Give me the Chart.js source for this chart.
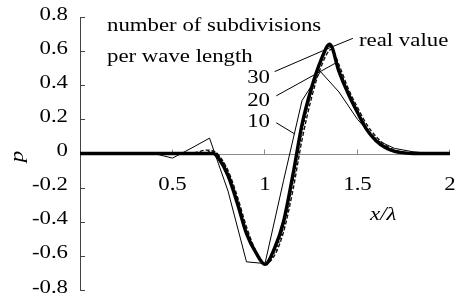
<!DOCTYPE html>
<html lang="en">
<head>
<meta charset="UTF-8">
<script src="https://cdn.jsdelivr.net/npm/chart.js@4.4.0/dist/chart.umd.min.js"></script>
<style>
  html, body { margin: 0; padding: 0; background: #fff; }
  #wrap { width: 458px; height: 298px; }
</style>
<title>p vs x/lambda</title>
</head>
<body>
<div id="wrap"><canvas id="myChart" width="458" height="298"></canvas></div>
<script>
// values (x in wave lengths, p)
const realX = [0, 0.7, 0.72, 0.75, 0.8, 0.85, 0.9, 0.95, 1.0, 1.05, 1.1, 1.15, 1.2, 1.25, 1.3, 1.35, 1.4, 1.45, 1.5, 1.55, 1.6, 1.65, 1.7, 1.75, 1.8, 2.0]
const realP = [0, 0, 0, -0.03, -0.13, -0.29, -0.47, -0.58, -0.65, -0.56, -0.40, -0.13, 0.17, 0.38, 0.54, 0.64, 0.48, 0.35, 0.24, 0.14, 0.075, 0.035, 0.012, 0.004, 0, 0]

const div30X = [0, 0.66, 0.7, 0.73, 0.76, 0.8, 0.85, 0.9, 0.95, 1.0, 1.05, 1.1, 1.15, 1.2, 1.25, 1.3, 1.35, 1.4, 1.45, 1.5, 1.55, 1.6, 1.65, 1.7, 1.75, 1.8, 2.0]
const div30P = [0, 0, 0.01, 0.005, -0.03, -0.11, -0.27, -0.45, -0.575, -0.645, -0.58, -0.43, -0.17, 0.13, 0.36, 0.53, 0.63, 0.50, 0.36, 0.25, 0.15, 0.085, 0.04, 0.015, 0.005, 0, 0]

const div20X = [0, 0.6, 0.64, 0.68, 0.72, 0.75, 0.8, 0.85, 0.9, 0.95, 1.0, 1.05, 1.1, 1.15, 1.2, 1.25, 1.3, 1.36, 1.4, 1.45, 1.5, 1.55, 1.6, 1.65, 1.7, 1.75, 1.8, 2.0]
const div20P = [0, 0, 0.01, 0.02, 0.015, -0.01, -0.10, -0.25, -0.43, -0.57, -0.645, -0.60, -0.46, -0.22, 0.08, 0.32, 0.50, 0.61, 0.52, 0.38, 0.27, 0.17, 0.10, 0.05, 0.02, 0.007, 0, 0]

const div10X = [0, 0.1, 0.2, 0.3, 0.4, 0.5, 0.6, 0.7, 0.8, 0.9, 1.0, 1.1, 1.2, 1.3, 1.4, 1.5, 1.6, 1.7, 1.8, 1.9, 2.0]
const div10P = [0, 0, 0, 0, 0, -0.027, 0.03, 0.09, -0.22, -0.635, -0.645, -0.16, 0.31, 0.48, 0.36, 0.2, 0.08, 0.03, 0.01, 0, 0]

const yTicks = [0.8, 0.6, 0.4, 0.2, 0, -0.2, -0.4, -0.6, -0.8]
const yTickLabels = ['0.8', '0.6', '0.4', '0.2', '0', '-0.2', '-0.4', '-0.6', '-0.8']
const xTicks = [0.5, 1, 1.5, 2]
const xTickLabels = ['0.5', '1', '1.5', '2']

// leader lines from the labels to the curves
const lead30 = [{x: 1.052, y: 0.48}, {x: 1.34, y: 0.615}]
const leadReal = [{x: 1.34, y: 0.615}, {x: 1.475, y: 0.675}]
const lead20 = [{x: 1.061, y: 0.338}, {x: 1.385, y: 0.532}]
const lead10 = [{x: 1.061, y: 0.18}, {x: 1.16, y: 0.115}]

const toPts = (xs, ys) => xs.map((v, i) => ({x: v, y: ys[i]}))

const SERIF = '"Liberation Serif", "Times New Roman", serif'
const STRETCH = 1.17

function wideText(ctx, text, px, py, align, font, rotate) {
    ctx.save()
    ctx.font = font
    ctx.fillStyle = '#000'
    ctx.textAlign = align
    ctx.textBaseline = 'alphabetic'
    ctx.translate(px, py)
    if (rotate) ctx.rotate(rotate)
    ctx.scale(STRETCH, 1)
    ctx.fillText(text, 0, 0)
    ctx.restore()
}

const extras = {
    id: 'extras',
    beforeDatasetsDraw(chart) {
        const {ctx, chartArea: a, scales: {x, y}} = chart
        const y0 = Math.round(y.getPixelForValue(0)) + 0.5
        ctx.save()
        ctx.lineWidth = 1
        // left axis with inward ticks
        ctx.strokeStyle = '#444'
        ctx.beginPath()
        ctx.moveTo(a.left + 0.5, a.top)
        ctx.lineTo(a.left + 0.5, a.bottom)
        yTicks.forEach(v => {
            const py = Math.round(y.getPixelForValue(v)) + 0.5
            ctx.moveTo(a.left, py)
            ctx.lineTo(a.left + 5, py)
        })
        ctx.stroke()
        // zero axis
        ctx.strokeStyle = '#8a8a8a'
        ctx.beginPath()
        ctx.moveTo(a.left, y0)
        ctx.lineTo(a.right, y0)
        xTicks.forEach(v => {
            const px = Math.round(x.getPixelForValue(v)) - 0.5
            ctx.moveTo(px, y0)
            ctx.lineTo(px, y0 - 5)
        })
        ctx.stroke()
        ctx.restore()
    },
    afterDatasetsDraw(chart) {
        const {ctx, chartArea: a, scales: {x, y}} = chart
        const f = '19.5px ' + SERIF
        const fi = 'italic 19.5px ' + SERIF
        const y0 = y.getPixelForValue(0)
        yTicks.forEach((v, i) => {
            wideText(ctx, yTickLabels[i], a.left - 12, y.getPixelForValue(v) + 2.5, 'right', f)
        })
        xTicks.forEach((v, i) => {
            wideText(ctx, xTickLabels[i], x.getPixelForValue(v), y0 + 36.5, 'center', f)
        })
        wideText(ctx, 'p', 23, (a.top + a.bottom) / 2 + 3, 'center', fi, -Math.PI / 2)
        wideText(ctx, 'x/λ', x.getPixelForValue(1.568), y.getPixelForValue(-0.389), 'left', fi)

        wideText(ctx, 'number of subdivisions', x.getPixelForValue(0.146), y.getPixelForValue(0.717), 'left', f)
        wideText(ctx, 'per wave length', x.getPixelForValue(0.146), y.getPixelForValue(0.536), 'left', f)
        wideText(ctx, 'real value', x.getPixelForValue(1.508), y.getPixelForValue(0.63), 'left', f)
        wideText(ctx, '30', x.getPixelForValue(1.027), y.getPixelForValue(0.416), 'right', f)
        wideText(ctx, '20', x.getPixelForValue(1.027), y.getPixelForValue(0.28), 'right', f)
        wideText(ctx, '10', x.getPixelForValue(1.027), y.getPixelForValue(0.153), 'right', f)
    }
}

const thin = {borderColor: '#000', borderWidth: 1, pointRadius: 0, showLine: true, tension: 0}

const ctx = document.getElementById('myChart').getContext('2d')
const myChart = new Chart(ctx, {
    type: 'scatter',
    data: {
        datasets: [
            {label: 'real value', data: toPts(realX, realP), borderColor: '#000', borderWidth: 3.4,
                pointRadius: 0, showLine: true, cubicInterpolationMode: 'monotone'},
            {label: '30', data: toPts(div30X, div30P), borderColor: '#111', borderWidth: 1.6,
                borderDash: [2, 2], pointRadius: 0, showLine: true, cubicInterpolationMode: 'monotone'},
            {label: '20', data: toPts(div20X, div20P), borderColor: '#111', borderWidth: 1.4,
                borderDash: [4, 2], pointRadius: 0, showLine: true, cubicInterpolationMode: 'monotone'},
            {label: '10', data: toPts(div10X, div10P), ...thin},
            {label: 'lead30', data: lead30, ...thin},
            {label: 'leadReal', data: leadReal, ...thin},
            {label: 'lead20', data: lead20, ...thin},
            {label: 'lead10', data: lead10, ...thin}
        ]
    },
    options: {
        responsive: false,
        animation: false,
        layout: {padding: {left: 80, right: 8, top: 17, bottom: 8}},
        scales: {
            x: {type: 'linear', min: 0, max: 2, display: false},
            y: {type: 'linear', min: -0.8, max: 0.8, display: false}
        },
        plugins: {legend: {display: false}, tooltip: {enabled: false}}
    },
    plugins: [extras]
})
</script>
</body>
</html>
